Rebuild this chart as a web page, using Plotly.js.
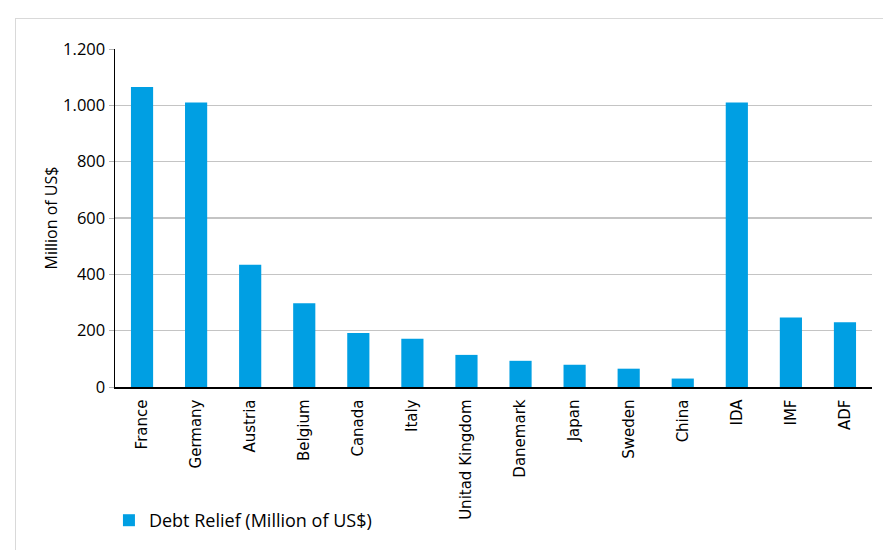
<!DOCTYPE html>
<html>
<head>
<meta charset="utf-8">
<script src="https://cdn.plot.ly/plotly-3.0.1.min.js"></script>
<style>
html,body{margin:0;padding:0;background:#fff;}
#frame{position:absolute;left:15px;top:18px;width:900px;height:600px;border-left:1px solid #d9d9d9;border-top:1px solid #d9d9d9;}
#chart{position:absolute;left:0;top:0;width:883px;height:550px;}
</style>
</head>
<body>
<div id="frame"></div>
<div id="chart"></div>
<script>
const categories = ["France","Germany","Austria","Belgium","Canada","Italy","Unitad Kingdom","Danemark","Japan","Sweden","China","IDA","IMF","ADF"];
const debtRelief = [1065, 1010, 434, 297, 192, 171, 114, 93, 79, 65, 30, 1010, 247, 230];
const yTicks = [0, 200, 400, 600, 800, 1000, 1200];
const seriesName = "Debt Relief (Million of US$)";
const yTitle = "Million of US$";

const txtFont = "Open Sans, sans-serif";

Plotly.newPlot("chart", [{
  type: "bar",
  x: categories,
  y: debtRelief,
  name: seriesName,
  marker: {color: "#009FE3"},
  showlegend: true
}], {
  width: 883, height: 550,
  margin: {l: 115, r: 11, t: 49, b: 159},
  paper_bgcolor: "rgba(0,0,0,0)",
  plot_bgcolor: "rgba(0,0,0,0)",
  separators: ",.",
  bargap: 0.59,
  font: {family: txtFont, color: "#000"},
  xaxis: {
    type: "category",
    tickangle: -90,
    tickfont: {family: "DejaVu Sans, sans-serif", size: 15, color: "#000"},
    showline: true, linecolor: "#000", linewidth: 1.5,
    ticks: "", showgrid: false,
    ticklabelstandoff: 5
  },
  yaxis: {
    range: [0, 1200],
    tickvals: yTicks,
    tickformat: ",d",
    tickfont: {family: txtFont, size: 16.5, color: "#000"},
    showline: true, linecolor: "#000", linewidth: 1.5,
    ticks: "outside", ticklen: 5, tickcolor: "#b3b3b3",
    showgrid: true, gridcolor: "#c4c4c4", gridwidth: 1.5,
    zeroline: false,
    title: {text: yTitle, font: {family: txtFont, size: 16, color: "#000"}, standoff: 1}
  },
  legend: {
    x: -0.008, xanchor: "left", y: -0.395, yanchor: "middle",
    font: {family: txtFont, size: 18, color: "#000"},
    bgcolor: "rgba(0,0,0,0)"
  }
}, {displayModeBar: false, staticPlot: true});
</script>
</body>
</html>
